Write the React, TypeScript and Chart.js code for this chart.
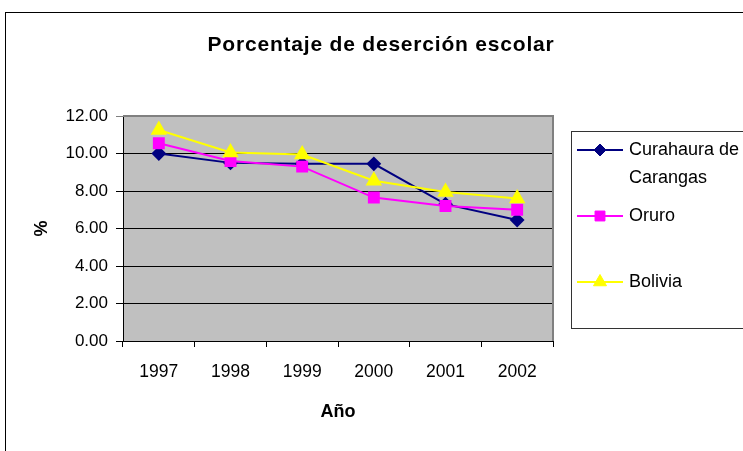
import React, { useEffect, useRef } from 'react';
import { Chart, registerables } from 'chart.js';
import { drawPoint } from 'chart.js/helpers';

Chart.register(...registerables);

const years = ['1997', '1998', '1999', '2000', '2001', '2002'];
const curahauraValues = [10.0, 9.5, 9.45, 9.45, 7.3, 6.45];
const oruroValues = [10.55, 9.6, 9.3, 7.65, 7.2, 7.0];
const boliviaValues = [11.25, 10.05, 9.95, 8.55, 7.95, 7.6];
const curahauraLabel = ['Curahaura de', 'Carangas'];
const oruroLabel = ['Oruro'];
const boliviaLabel = ['Bolivia'];
const chartTitle = 'Porcentaje de deserción escolar';
const xAxisTitle = 'Año';
const yAxisTitle = '%';
const yMin = 0;
const yMax = 12;
const yStep = 2;

const FONT = "'Liberation Sans', Arial, sans-serif";

const legendRows = [150, 216, 282];

const decorations = {
  id: 'decorations',
  beforeDraw(chart: any) {
    const { ctx, chartArea: a, width, height } = chart;
    ctx.save();
    ctx.fillStyle = '#ffffff';
    ctx.fillRect(0, 0, width, height);
    ctx.fillStyle = '#c0c0c0';
    ctx.fillRect(a.left, a.top, a.right - a.left, a.bottom - a.top);
    ctx.restore();
  },
  beforeDatasetsDraw(chart: any) {
    const { ctx, chartArea: a } = chart;
    ctx.save();
    ctx.strokeStyle = '#808080';
    ctx.lineWidth = 2;
    ctx.beginPath();
    ctx.moveTo(a.left, a.top);
    ctx.lineTo(a.right, a.top);
    ctx.lineTo(a.right, a.bottom);
    ctx.stroke();
    ctx.restore();
  },
  afterDraw(chart: any) {
    const { ctx, chartArea: a } = chart;
    ctx.save();
    // outer frame
    ctx.strokeStyle = '#000';
    ctx.lineWidth = 1;
    ctx.strokeRect(5.5, 12.5, 900, 600);
    // title
    ctx.fillStyle = '#000';
    ctx.textAlign = 'center';
    ctx.textBaseline = 'middle';
    ctx.font = `bold 21px ${FONT}`;
    try { (ctx as any).letterSpacing = '0.8px'; } catch (e) {}
    ctx.fillText(chartTitle, 381, 45);
    try { (ctx as any).letterSpacing = '0px'; } catch (e) {}
    // x axis title
    ctx.font = `bold 18px ${FONT}`;
    ctx.fillText(xAxisTitle, (a.left + a.right) / 2, 412);
    // y axis title
    ctx.save();
    ctx.translate(42, (a.top + a.bottom) / 2);
    ctx.rotate(-Math.PI / 2);
    ctx.fillText(yAxisTitle, 0, 0);
    ctx.restore();
    // legend
    ctx.strokeStyle = '#333';
    ctx.lineWidth = 1;
    ctx.strokeRect(571.5, 131.5, 300, 197);
    const labels = [curahauraLabel, oruroLabel, boliviaLabel];
    chart.data.datasets.forEach((ds: any, i: number) => {
      const y = legendRows[i];
      ctx.strokeStyle = ds.borderColor;
      ctx.lineWidth = 2;
      ctx.beginPath();
      ctx.moveTo(577, y);
      ctx.lineTo(623, y);
      ctx.stroke();
      ctx.fillStyle = ds.pointBackgroundColor;
      ctx.strokeStyle = ds.pointBorderColor;
      ctx.lineWidth = 1;
      drawPoint(ctx, { pointStyle: ds.pointStyle, radius: ds.pointRadius, rotation: 0, borderWidth: 1 }, 600, y);
      ctx.fillStyle = '#000';
      ctx.textAlign = 'left';
      ctx.textBaseline = 'middle';
      ctx.font = `18px ${FONT}`;
      labels[i].forEach((t: string, k: number) => ctx.fillText(t, 629, y + k * 28));
    });
    ctx.restore();
  },
};

export default function App() {
  const ref = useRef<HTMLCanvasElement | null>(null);
  useEffect(() => {
    if (!ref.current) return;
    const chart = new Chart(ref.current, {
      type: 'line',
      data: {
        labels: years,
        datasets: [
          {
            label: curahauraLabel.join(' '),
            data: curahauraValues,
            order: 2,
            borderColor: '#000080',
            backgroundColor: '#000080',
            pointBackgroundColor: '#000080',
            pointBorderColor: '#000080',
            pointStyle: 'rectRot',
            pointRadius: 6,
            borderWidth: 2,
            tension: 0,
          },
          {
            label: oruroLabel.join(' '),
            data: oruroValues,
            order: 1,
            borderColor: '#ff00ff',
            backgroundColor: '#ff00ff',
            pointBackgroundColor: '#ff00ff',
            pointBorderColor: '#ff00ff',
            pointStyle: 'rect',
            pointRadius: 7,
            borderWidth: 2,
            tension: 0,
          },
          {
            label: boliviaLabel.join(' '),
            data: boliviaValues,
            order: 0,
            borderColor: '#ffff00',
            backgroundColor: '#ffff00',
            pointBackgroundColor: '#ffff00',
            pointBorderColor: '#ffff00',
            pointStyle: 'triangle',
            pointRadius: 7.5,
            borderWidth: 2,
            tension: 0,
          },
        ],
      },
      options: {
        animation: false,
        responsive: false,
        devicePixelRatio: 1,
        layout: { padding: { top: 116, right: 190, bottom: 0, left: 0 } },
        plugins: { legend: { display: false }, title: { display: false }, tooltip: { enabled: false } },
        scales: {
          x: {
            type: 'category',
            offset: true,
            afterFit: (s: any) => { s.height = 110; },
            grid: { offset: true, drawOnChartArea: false, drawTicks: true, tickLength: 6, color: '#000' },
            border: { display: true, color: '#000', width: 1 },
            ticks: { color: '#000', font: { family: FONT, size: 17.5 }, padding: 15, maxRotation: 0 },
          },
          y: {
            min: yMin,
            max: yMax,
            afterFit: (s: any) => { s.width = 123; },
            grid: {
              color: (c: any) => (c.tick && c.tick.value === yMax ? '#808080' : '#000'),
              tickLength: 7,
              lineWidth: 1,
            },
            border: { display: true, color: '#000', width: 1 },
            ticks: {
              stepSize: yStep,
              color: '#000',
              font: { family: FONT, size: 17 },
              padding: 8,
              callback: (v: any) => Number(v).toFixed(2),
            },
          },
        },
      },
      plugins: [decorations],
    } as any);
    return () => chart.destroy();
  }, []);
  return (
    <div style={{ position: 'fixed', left: 0, top: 0, width: 743, height: 451, background: '#fff' }}>
      <canvas ref={ref} width={743} height={451} style={{ width: 743, height: 451, display: 'block' }} />
    </div>
  );
}
